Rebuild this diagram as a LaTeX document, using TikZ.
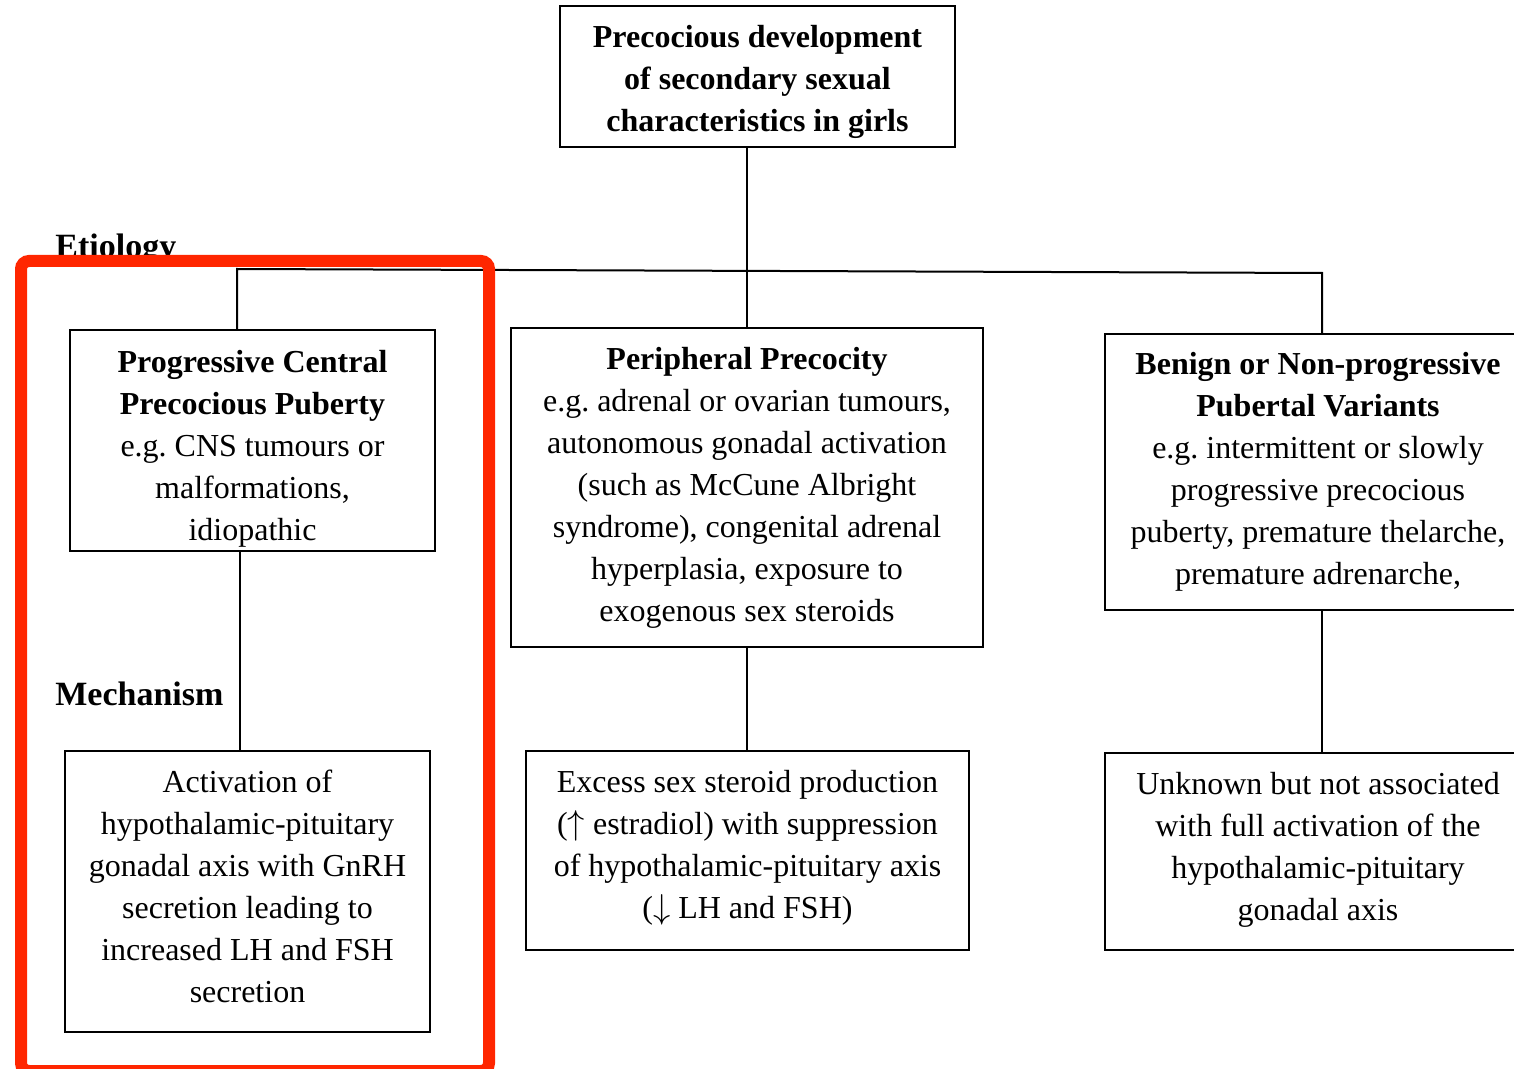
\documentclass[tikz,border=0pt]{standalone}
\usepackage{fontspec}
\setmainfont{Liberation Serif}
\usepackage{tikz}
\usetikzlibrary{positioning,calc}
\frenchspacing
\definecolor{MarkRed}{RGB}{255,38,0}
\tikzset{
	box/.style={draw=black,line width=1.2pt,fill=white,inner sep=0pt,align=center,
		font=\fontsize{16}{21}\selectfont},
	lnk/.style={draw=black,line width=1pt},
	head/.style={font=\fontsize{17}{21}\selectfont\bfseries,inner sep=0pt,anchor=base west},
	hilite/.style={draw=MarkRed,line width=6pt,rounded corners=4pt},
}
\begin{document}
\begin{tikzpicture}[x=0.5pt,y=-0.5pt]
	\useasboundingbox (0,0) rectangle (1514,1069);
	\node[box,minimum width=197.5pt,minimum height=70.5pt] (girls) at (757.5,76.5)
		{\rule{0pt}{17pt}\textbf{Precocious development}\\\textbf{of secondary sexual}\\\textbf{characteristics in girls}};
	\node[box,minimum width=182.5pt,minimum height=110.5pt] (cpp) at (252.5,440.5)
		{\rule{0pt}{19pt}\textbf{Progressive Central}\\\textbf{Precocious Puberty}\\e.g. CNS tumours or\\malformations,\\idiopathic};
	\node[box,minimum width=236pt,minimum height=159.5pt] (ppp) at (747,487.5)
		{\textbf{Peripheral Precocity}\\e.g. adrenal or ovarian tumours,\\autonomous gonadal activation\\(such as McCune Albright\\syndrome), congenital adrenal\\hyperplasia, exposure to\\exogenous sex steroids};
	\node[box,minimum width=213pt,minimum height=138pt] (npv) at (1318,472)
		{\textbf{Benign or Non-progressive}\\\textbf{Pubertal Variants}\\e.g. intermittent or slowly\\progressive precocious\\puberty, premature thelarche,\\premature adrenarche,};
	\node[box,minimum width=182.5pt,minimum height=140.5pt] (hpg) at (247.5,891.5)
		{Activation of\\hypothalamic-pituitary\\gonadal axis with GnRH\\secretion leading to\\increased LH and FSH\\secretion\rule[-5pt]{0pt}{1pt}};
	\node[box,minimum width=221.5pt,minimum height=99.5pt] (sex) at (747.5,850.5)
		{Excess sex steroid production\\($\uparrow$ estradiol) with suppression\\of hypothalamic-pituitary axis\\($\downarrow$ LH and FSH)\rule[-6.5pt]{0pt}{1pt}};
	\node[box,minimum width=213pt,minimum height=98.5pt] (unk) at (1318,851.5)
		{Unknown but not associated\\with full activation of the\\hypothalamic-pituitary\\gonadal axis\rule[-5.5pt]{0pt}{1pt}};
	\node[head] (etio) at (55,258) {Etiology};
	\node[head] (mech) at (55,705) {Mechanism};
	\coordinate (busL) at (237,269);
	\coordinate (busR) at (1322,273);
	\coordinate (cppL) at (240,600);
	\draw[lnk] (girls.south -| ppp.north) -- (ppp.north);
	\draw[lnk] (busL |- cpp.north) -- (busL) -- (busR) -- (busR |- npv.north);
	\draw[lnk] (cpp.south -| cppL) -- (hpg.north -| cppL);
	\draw[lnk] (ppp.south) -- (ppp.south |- sex.north);
	\draw[lnk] (npv.south -| busR) -- (unk.north -| busR);
	\draw[hilite] (21,261) rectangle (489,1071);
\end{tikzpicture}
\end{document}
